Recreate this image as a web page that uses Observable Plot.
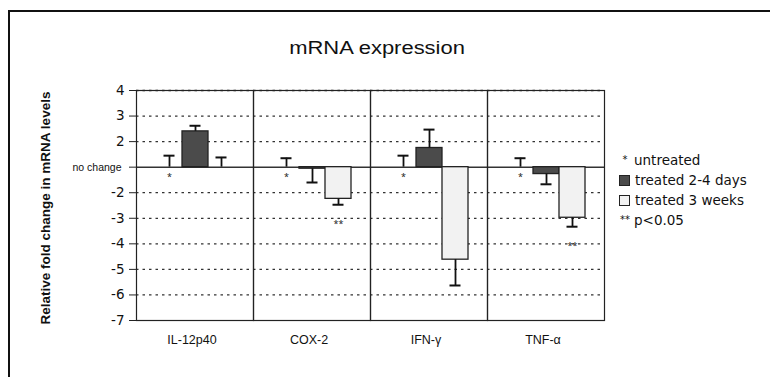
<!DOCTYPE html>
<html>
<head>
<meta charset="utf-8">
<script src="https://cdn.jsdelivr.net/npm/d3@7"></script>
<script src="https://cdn.jsdelivr.net/npm/@observablehq/plot@0.6"></script>
<style>
  html, body { margin: 0; padding: 0; background: #fff; }
  #page { position: relative; width: 770px; height: 377px; overflow: hidden; background: #fff; }
  #border { position: absolute; left: 8px; top: 10px; width: 900px; height: 500px;
            border-left: 2px solid #111; border-top: 2px solid #111; }
  #title { position: absolute; left: 0; top: 38px; width: 754px; text-align: center;
           font-family: "Liberation Sans", Arial, sans-serif; font-size: 18px; color: #111; }
  #title span { display: inline-block; transform: scaleX(1.22); }
  #ylabel { position: absolute; left: 45px; top: 208px; transform: translate(-50%, -50%) rotate(-90deg);
            white-space: nowrap; font-family: "Liberation Sans", Arial, sans-serif; font-weight: bold;
            font-size: 13.5px; color: #111; }
  #chart { position: absolute; left: 0; top: 70px; }
  #legend { position: absolute; left: 616px; top: 150px; font-family: "DejaVu Sans", sans-serif;
            font-size: 13.5px; color: #111; }
  .li { height: 20px; line-height: 20px; white-space: nowrap; display: flex; align-items: center; }
  .sw { width: 9px; height: 9px; border: 1px solid #222; margin-left: 3px; margin-right: 5px; box-sizing: content-box; }
  .mk { display: inline-block; width: 18px; text-align: center; font-size: 10px; }
</style>
</head>
<body>
<div id="page">
  <div id="border"></div>
  <div id="title"><span>mRNA expression</span></div>
  <div id="ylabel">Relative fold change in mRNA levels</div>
  <div id="chart"></div>
  <div id="legend"></div>
</div>
<script>
// ---- data (values in plotted-axis units; axis labels collapse +1/-1 into "no change") ----
const categories = ["IL-12p40", "COX-2", "IFN-γ", "TNF-α"];
const series = ["untreated", "treated 2-4 days", "treated 3 weeks"];
const untreated = [0, 0, 0, 0];
const untreatedErr = [0.45, 0.35, 0.45, 0.35];
const treatedDays = [1.40, -0.06, 0.75, -0.27];
const treatedDaysErr = [0.22, 0.54, 0.72, 0.40];
const treatedWeeks = [0, -1.24, -3.62, -1.98];
const treatedWeeksErr = [0.38, 0.23, 1.01, 0.35];
const significant = ["", "**", "", "**"]; // treated 3 weeks, p<0.05
const yTickValues = [3, 2, 1, 0, -1, -2, -3, -4, -5, -6];
const yTickLabels = ["4", "3", "2", "no change", "-2", "-3", "-4", "-5", "-6", "-7"];
const colors = ["#ffffff", "#4b4b4b", "#f2f2f2"];

const valueSets = [untreated, treatedDays, treatedWeeks];
const errSets = [untreatedErr, treatedDaysErr, treatedWeeksErr];
const rows = [];
categories.forEach((c, i) => {
  series.forEach((s, j) => {
    const v = valueSets[j][i], e = errSets[j][i];
    rows.push({category: c, series: s, value: v, end: v >= 0 ? v + e : v - e,
               sig: j === 0 ? "*" : (j === 2 ? significant[i] : "")});
  });
});
const labelOf = new Map(yTickValues.map((v, i) => [v, yTickLabels[i]]));
const numTicks = yTickValues.filter(v => v !== 0);
const gridTicks = yTickValues.filter(v => v !== 0 && v !== -6);

const chart = Plot.plot({
  width: 770,
  height: 307,
  marginTop: 20,
  marginBottom: 57,
  marginLeft: 135,
  marginRight: 166,
  style: {background: "transparent"},
  fx: {domain: categories, padding: 0, label: null, axis: null},
  x: {domain: series, paddingInner: 0, paddingOuter: 0.75, axis: null},
  y: {domain: [-6, 3], axis: null},
  color: {domain: series, range: colors},
  marks: [
    Plot.gridY(gridTicks, {stroke: "#333", strokeOpacity: 1, strokeDasharray: "2.5,4", strokeWidth: 1.3}),
    Plot.ruleY([0], {stroke: "#333", strokeWidth: 1.5}),
    Plot.barY(rows.filter(d => d.series !== "untreated"), {fx: "category", x: "series", y: "value",
      fill: "series", stroke: "#222", strokeWidth: 1.3}),
    Plot.ruleX(rows, {fx: "category", x: "series", y1: "value", y2: "end", stroke: "#111", strokeWidth: 1.8}),
    Plot.tickY(rows, {fx: "category", x: "series", y: "end", stroke: "#111", strokeWidth: 2,
      insetLeft: 7.5, insetRight: 7.5}),
    Plot.text(rows.filter(d => d.sig === "*"), {fx: "category", x: "series", y: "value", text: "sig",
      dy: 10, fontSize: 9, fill: "#222"}),
    Plot.text(rows.filter(d => d.sig === "**"), {fx: "category", x: "series", y: "end", text: "sig",
      dy: 19, fontSize: 9, fill: "#222"}),
    Plot.frame({stroke: "#222", strokeWidth: 1.2}),
    Plot.axisY(yTickValues, {tickSize: 7, tickPadding: 5, tickFormat: d => labelOf.get(d),
      fill: "#111", stroke: "#222", label: null}),
    Plot.axisFx({anchor: "bottom", tickSize: 0, tickPadding: 15,
      fill: "#111", label: null, dx: -3})
  ]
});
document.getElementById("chart").appendChild(chart);

// per-label typography for the y axis and the category axis
d3.select(chart).selectAll('g[aria-label="y-axis tick label"] text').each(function () {
  const t = d3.select(this);
  if (t.text() === "no change") {
    t.attr("font-size", 10.5).attr("font-family", "Liberation Sans, Arial, sans-serif").attr("dx", -3);
  } else {
    t.attr("font-size", 13.5).attr("font-family", "DejaVu Sans, sans-serif");
  }
});
d3.select(chart).selectAll('g[aria-label="fx-axis tick label"] text')
  .attr("font-size", 12.5).attr("font-family", "Liberation Sans, Arial, sans-serif");

// legend
const legend = document.getElementById("legend");
const legendItems = [
  {mark: "*", text: "untreated"},
  {swatch: colors[1], text: "treated 2-4 days"},
  {swatch: colors[2], text: "treated 3 weeks"},
  {mark: "**", text: "p<0.05"}
];
legendItems.forEach(it => {
  const row = document.createElement("div");
  row.className = "li";
  if (it.swatch) {
    const sw = document.createElement("span");
    sw.className = "sw";
    sw.style.background = it.swatch;
    row.appendChild(sw);
  } else {
    const mk = document.createElement("span");
    mk.className = "mk";
    mk.textContent = it.mark;
    row.appendChild(mk);
  }
  const t = document.createElement("span");
  t.textContent = it.text;
  row.appendChild(t);
  legend.appendChild(row);
});
</script>
</body>
</html>
